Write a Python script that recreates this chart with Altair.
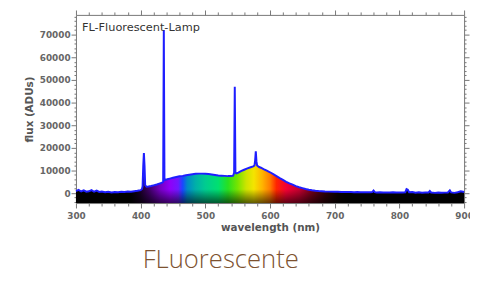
import altair as alt
import pandas as pd

# ---- data ----
wavelength = [
    300, 304, 308, 312, 316, 320, 324, 328, 332, 336, 340, 345, 350, 355, 360, 365, 370, 375, 380, 385,
    390, 395, 400, 402, 403, 404, 405, 406, 407, 409, 412, 416, 420, 425, 430, 433, 434.8, 435.8, 436.8,
    438, 441, 445, 450, 455, 460, 465, 470, 475, 480, 485, 490, 495, 500, 505, 510, 515, 520, 525, 530,
    535, 540, 543, 544.5, 545.5, 546.5, 548, 551, 555, 560, 565, 570, 574, 576, 577, 578, 579, 580, 583,
    586, 590, 595, 600, 605, 610, 615, 620, 625, 630, 635, 640, 645, 650, 655, 660, 665, 670, 675, 680,
    685, 690, 700, 705, 710, 715, 720, 725, 730, 735, 740, 745, 750, 755, 758, 760, 762, 765, 770, 775,
    780, 785, 790, 795, 800, 805, 809, 811, 813, 815, 820, 825, 830, 835, 840, 845, 847, 849, 855, 860,
    865, 870, 875, 878, 880, 885, 890, 895, 900,
]
flux = [
    900, 1400, 700, 1200, 600, 800, 1300, 600, 1100, 500, 700, 400, 600, 300, 500, 400, 600, 500, 700, 600,
    800, 1000, 1300, 1800, 3000, 12000, 17700, 12000, 3500, 2800, 2900, 3100, 3400, 3800, 4300, 4600, 5000, 72000, 5800,
    5900, 6100, 6400, 6800, 7100, 7400, 7600, 7900, 8100, 8300, 8500, 8600, 8600, 8500, 8400, 8200, 8000, 7800, 7700, 7600,
    7500, 7500, 7700, 9000, 47000, 9000, 8700, 9000, 9700, 10300, 10900, 11400, 11800, 12200, 14500, 18400, 14000, 12200, 11500,
    11200, 10600, 9900, 9200, 8400, 7500, 6600, 5800, 5000, 4300, 3700, 3100, 2600, 2200, 1800, 1500, 1250, 1050, 900, 800,
    700, 650, 600, 550, 500, 520, 450, 480, 420, 450, 380, 420, 350, 400, 450, 1100, 400, 300, 350, 250,
    320, 280, 330, 250, 300, 250, 350, 1800, 1500, 400, 500, 200, 350, 150, 250, 300, 900, 250, 100, 300,
    150, 200, 250, 1200, 300, 100, 350, 800, 500,
]

x_ticks = list(range(300, 901, 20))
y_ticks = list(range(-4000, 78001, 2000))
y_min, y_max = -4400, 78700

spectrum_stops = [
    (300, "#000000"), (385, "#000000"), (400, "#1a0028"), (415, "#44006e"), (430, "#7400c0"),
    (445, "#9000f8"), (458, "#7018ff"), (465, "#1848ff"), (472, "#0088c8"), (485, "#00b0a8"),
    (500, "#00cc90"), (520, "#00e070"), (535, "#28e020"), (550, "#78e400"), (563, "#cce400"),
    (575, "#f4e400"), (588, "#ffb400"), (600, "#ff7c00"), (610, "#ff2400"), (625, "#f40034"),
    (645, "#c40030"), (665, "#740018"), (685, "#340008"), (705, "#0a0000"), (720, "#000000"),
    (900, "#000000"),
]

df = pd.DataFrame({"wavelength": wavelength, "flux": flux})
df["base"] = y_min

xs = alt.Scale(domain=[300, 900], nice=False, zero=False)
ys = alt.Scale(domain=[y_min, y_max], nice=False, zero=False)

axis_common = dict(
    grid=False, domain=False, labelFont="DejaVu Sans", labelFontSize=9, labelFontWeight="bold",
    labelColor="#666666", titleFont="DejaVu Sans", titleFontSize=10.5, titleFontWeight="bold",
    titleColor="#555555", tickColor="#777777", labelOverlap=False,
)

x_axis = alt.Axis(
    values=x_ticks, format="d", labelFlush=False,
    labelExpr="datum.value % 100 == 0 ? datum.label : ''",
    tickSize={"condition": {"test": "datum.value % 100 == 0", "value": 5}, "value": 3},
    title="wavelength (nm)", labelPadding=4, titlePadding=2, **axis_common,
)
y_axis = alt.Axis(
    values=y_ticks, format="d",
    labelExpr="(datum.value % 10000 == 0 && datum.value >= 0) ? datum.label : ''",
    tickSize={"condition": {"test": "datum.value % 10000 == 0", "value": 5}, "value": 2},
    title="flux (ADUs)", labelPadding=1, titlePadding=5, **axis_common,
)
x_axis_top = alt.Axis(
    values=x_ticks, orient="top", labels=False, title=None, grid=False, domain=False, tickColor="#777777",
    tickSize={"condition": {"test": "datum.value % 100 == 0", "value": 5}, "value": 3},
)
y_axis_right = alt.Axis(
    values=y_ticks, orient="right", labels=False, title=None, grid=False, domain=False, tickColor="#777777",
    tickSize={"condition": {"test": "datum.value % 10000 == 0", "value": 5}, "value": 2},
)

gradient = alt.Gradient(
    gradient="linear",
    stops=[alt.GradientStop(offset=(w - 300) / 600, color=c) for w, c in spectrum_stops],
    x1=0, x2=1, y1=0, y2=0,
)
shade = alt.Gradient(
    gradient="linear",
    stops=[
        alt.GradientStop(offset=0, color="rgba(0,0,0,0)"),
        alt.GradientStop(offset=0.92, color="rgba(0,0,0,0)"),
        alt.GradientStop(offset=1, color="rgba(0,0,0,0.6)"),
    ],
    x1=0, x2=0, y1=0, y2=1,
)

base = alt.Chart(df)

area = base.mark_area(color=gradient, interpolate="linear").encode(
    x=alt.X("wavelength:Q", scale=xs, axis=x_axis),
    y=alt.Y("flux:Q", scale=ys, axis=y_axis),
    y2="base:Q",
)
shade_area = base.mark_area(color=shade).encode(
    x=alt.X("wavelength:Q", scale=xs, axis=None),
    y=alt.Y("flux:Q", scale=ys, axis=None),
    y2="base:Q",
)
line = base.mark_line(color="#1e1eff", strokeWidth=2).encode(
    x=alt.X("wavelength:Q", scale=xs, axis=None),
    y=alt.Y("flux:Q", scale=ys, axis=None),
)
mirror = base.mark_point(opacity=0).encode(
    x=alt.X("wavelength:Q", scale=xs, axis=x_axis_top),
    y=alt.Y("flux:Q", scale=ys, axis=y_axis_right),
)
label = alt.Chart(pd.DataFrame({"t": ["FL-Fluorescent-Lamp"]})).mark_text(
    align="left", baseline="middle", font="DejaVu Sans", fontSize=11.5, color="#333333",
).encode(x=alt.value(6), y=alt.value(13), text="t:N")

chart = (
    alt.layer(area, shade_area, line, mirror, label)
    .resolve_axis(x="independent", y="independent")
    .properties(
        width=394, height=191,
        autosize=alt.AutoSizeParams(type="none"),
        padding={"left": 69, "top": 5, "right": 6, "bottom": 69},
        title=alt.TitleParams(
            "FLuorescente", orient="bottom", anchor="middle", dx=-50, offset=14,
            font="Open Sans", fontWeight=300, fontSize=26, color="#7d5230",
        ),
    )
    .configure_view(stroke="#777777", strokeWidth=1)
)

chart.save("out.html", embed_options={"renderer": "svg", "actions": False})
